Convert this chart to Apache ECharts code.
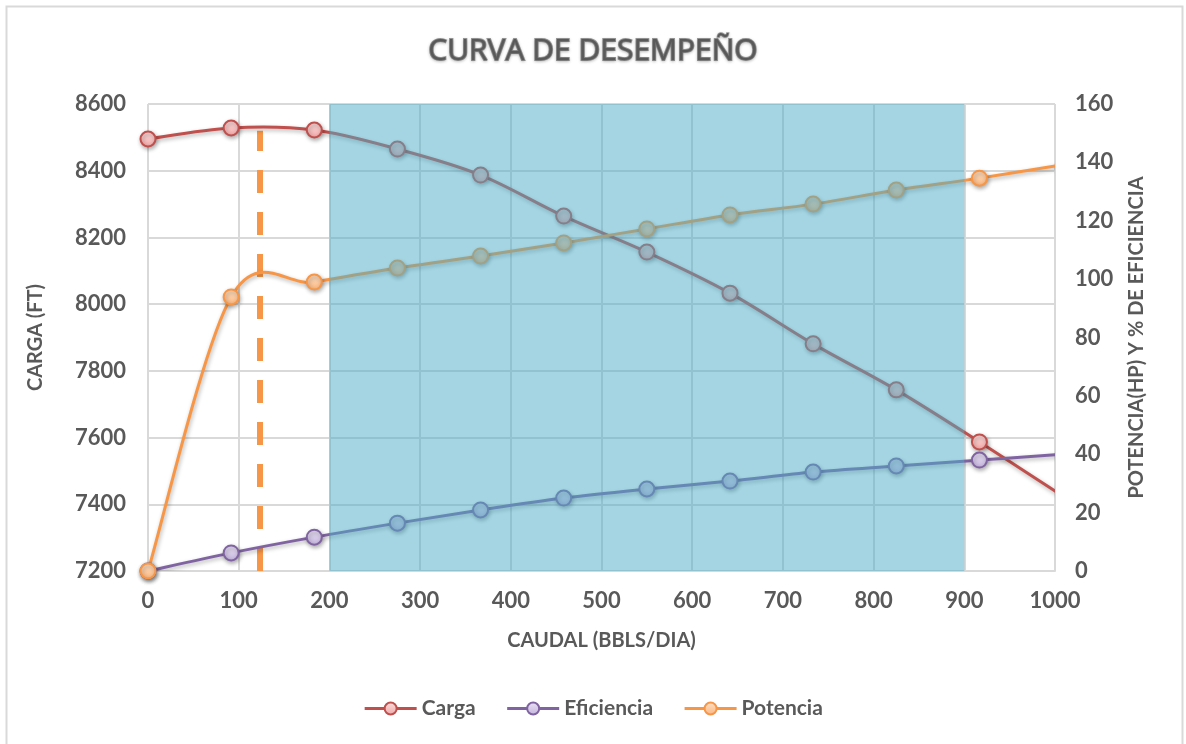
<!DOCTYPE html>
<html>
<head>
<meta charset="utf-8">
<script src="https://cdn.jsdelivr.net/npm/echarts@6/dist/echarts.min.js"></script>
<style>
html,body{margin:0;padding:0;background:#fff;}
#chart{width:1186px;height:744px;}
</style>
</head>
<body>
<div id="chart"></div>
<script>
// Data
const caudal     = [0, 91.67, 183.33, 275, 366.67, 458.33, 550, 641.67, 733.33, 825, 916.67, 1008.33];
const carga      = [8495, 8528, 8522, 8465, 8387, 8264, 8156, 8033, 7881, 7743, 7587, 7425];
const eficiencia = [0, 6.2, 11.6, 16.4, 20.9, 25.0, 28.1, 30.8, 33.9, 36.0, 38.0, 40.0];
const potencia   = [0, 93.9, 99.0, 103.8, 107.9, 112.4, 117.2, 122.0, 125.7, 130.5, 134.6, 139.2];
const zonaOperativa = [200, 900];
const corteX = 123.5;
const corteY = [7200, 8520];
const cargaTicks = [7200, 8600, 200];
const potTicks = [0, 160, 20];
const caudalTicks = [0, 1000, 100];

const pairs = (xs, ys) => xs.map((x, i) => [x, ys[i]]);
const labelFont = 'Lato';
const grey = '#595959';
const shadow = {shadowColor: 'rgba(0,0,0,0.3)', shadowBlur: 4, shadowOffsetX: 1, shadowOffsetY: 2};
const colors = {Carga: '#c0504d', Eficiencia: '#8064a2', Potencia: '#f79646'};
const fillsLight = {Carga: '#fcdede', Eficiencia: '#ebe4f5', Potencia: '#fee2c9'};
const fills = {Carga: '#f2a7a6', Eficiencia: '#c4b3dd', Potencia: '#fbb57c'};

// Markers (and legend entry) for each series
function markerSeries(name, data, yIdx) {
  return {
    name, type: 'line', yAxisIndex: yIdx, data,
    smooth: false, symbol: 'circle', symbolSize: 15, z: 4,
    lineStyle: {color: colors[name], width: 3, opacity: 0},
    itemStyle: Object.assign({
      color: {type: 'linear', x: 0, y: 0, x2: 0, y2: 1, colorStops: [{offset: 0, color: fillsLight[name]}, {offset: 1, color: fills[name]}]},
      borderColor: colors[name], borderWidth: 2
    }, shadow)
  };
}

// Smoothed curve (cardinal spline like the spreadsheet's smoothed line), through the axes' coord()
function curveSeries(name, xs, ys, yIdx) {
  const segs = xs.slice(0, -1).map((x, i) => [x, ys[i], i]);
  return {
    name: name + '_curva', type: 'custom', yAxisIndex: yIdx, z: 3, clip: true, silent: true,
    data: segs, encode: {x: 0, y: 1},
    renderItem: function (params, api) {
      const i = api.value(2);
      const n = xs.length;
      const P = k => api.coord([xs[k], ys[k]]);
      const p0 = P(Math.max(i - 1, 0)), p1 = P(i), p2 = P(i + 1), p3 = P(Math.min(i + 2, n - 1));
      return {
        type: 'bezierCurve',
        shape: {
          x1: p1[0], y1: p1[1], x2: p2[0], y2: p2[1],
          cpx1: p1[0] + (p2[0] - p0[0]) / 6, cpy1: p1[1] + (p2[1] - p0[1]) / 6,
          cpx2: p2[0] - (p3[0] - p1[0]) / 6, cpy2: p2[1] - (p3[1] - p1[1]) / 6
        },
        style: Object.assign({fill: null, stroke: colors[name], lineWidth: 3, lineCap: 'round'}, shadow)
      };
    }
  };
}

const chart = echarts.init(document.getElementById('chart'));
chart.setOption({
  animation: false,
  backgroundColor: '#ffffff',
  graphic: [{
    type: 'rect', shape: {x: 6.5, y: 6.5, width: 1176, height: 760},
    style: {fill: 'none', stroke: '#d9d9d9', lineWidth: 2}, silent: true, z: 0
  }],
  title: {
    text: 'CURVA DE DESEMPEÑO', left: 'center', top: 31,
    textStyle: {
      fontFamily: 'Open Sans', fontSize: 30, fontWeight: 'normal', color: grey,
      textBorderColor: 'rgba(89,89,89,0.6)', textBorderWidth: 1.8,
      textShadowColor: 'rgba(0,0,0,0.25)', textShadowBlur: 3, textShadowOffsetY: 1
    }
  },
  legend: {
    data: ['Carga', 'Eficiencia', 'Potencia'].map(n => ({name: n, lineStyle: {opacity: 1, width: 3, color: colors[n]}})),
    bottom: 20, left: 'center',
    itemWidth: 52, itemHeight: 15, itemGap: 30,
    textStyle: {fontFamily: labelFont, fontSize: 21, fontWeight: 'bold', color: grey}
  },
  grid: {left: 148, right: 131, top: 104, bottom: 173},
  xAxis: {
    type: 'value', min: caudalTicks[0], max: caudalTicks[1], interval: caudalTicks[2],
    name: 'CAUDAL (BBLS/DIA)', nameLocation: 'middle', nameGap: 60,
    nameTextStyle: {fontFamily: labelFont, fontSize: 20, fontWeight: 'bold', color: grey},
    axisLine: {lineStyle: {color: '#d9d9d9', width: 2}}, axisTick: {show: false},
    axisLabel: {fontFamily: labelFont, fontSize: 22, fontWeight: 'bold', color: grey, margin: 19, formatter: v => String(v)},
    splitLine: {show: true, lineStyle: {color: '#d9d9d9', width: 2}}
  },
  yAxis: [{
    type: 'value', min: cargaTicks[0], max: cargaTicks[1], interval: cargaTicks[2],
    name: 'CARGA (FT)', nameLocation: 'middle', nameGap: 102, nameRotate: 90,
    nameTextStyle: {fontFamily: labelFont, fontSize: 20, fontWeight: 'bold', color: grey},
    axisLine: {show: false}, axisTick: {show: false},
    axisLabel: {fontFamily: labelFont, fontSize: 22, fontWeight: 'bold', color: grey, margin: 22, formatter: v => String(v)},
    splitLine: {show: true, lineStyle: {color: '#d9d9d9', width: 2}}
  }, {
    type: 'value', min: potTicks[0], max: potTicks[1], interval: potTicks[2],
    name: 'POTENCIA(HP) Y % DE EFICIENCIA', nameLocation: 'middle', nameGap: 72, nameRotate: 90,
    nameTextStyle: {fontFamily: labelFont, fontSize: 20, fontWeight: 'bold', color: grey},
    axisLine: {show: false}, axisTick: {show: false},
    axisLabel: {fontFamily: labelFont, fontSize: 22, fontWeight: 'bold', color: grey, margin: 20, formatter: v => String(v)},
    splitLine: {show: false}
  }],
  series: [
    {
      name: 'Corte', type: 'line', yAxisIndex: 0, z: 2,
      data: [[corteX, corteY[0]], [corteX, corteY[1]]],
      symbol: 'none', silent: true,
      lineStyle: {color: '#f79646', width: 6, type: [23, 19]}
    },
    markerSeries('Carga', pairs(caudal, carga), 0),
    markerSeries('Eficiencia', pairs(caudal, eficiencia), 1),
    markerSeries('Potencia', pairs(caudal, potencia), 1),
    curveSeries('Carga', caudal, carga, 0),
    curveSeries('Eficiencia', caudal, eficiencia, 1),
    curveSeries('Potencia', caudal, potencia, 1),
    {
      name: 'Zona', type: 'custom', yAxisIndex: 0, z: 10, silent: true,
      data: [[zonaOperativa[0], zonaOperativa[1]]], encode: {x: [0, 1]},
      renderItem: function (params, api) {
        const a = api.coord([api.value(0), cargaTicks[1]]);
        const b = api.coord([api.value(1), cargaTicks[0]]);
        return {
          type: 'rect',
          shape: {x: a[0], y: a[1], width: b[0] - a[0], height: b[1] - a[1]},
          style: {fill: 'rgba(75,172,198,0.5)'}
        };
      }
    }
  ]
});
</script>
</body>
</html>
